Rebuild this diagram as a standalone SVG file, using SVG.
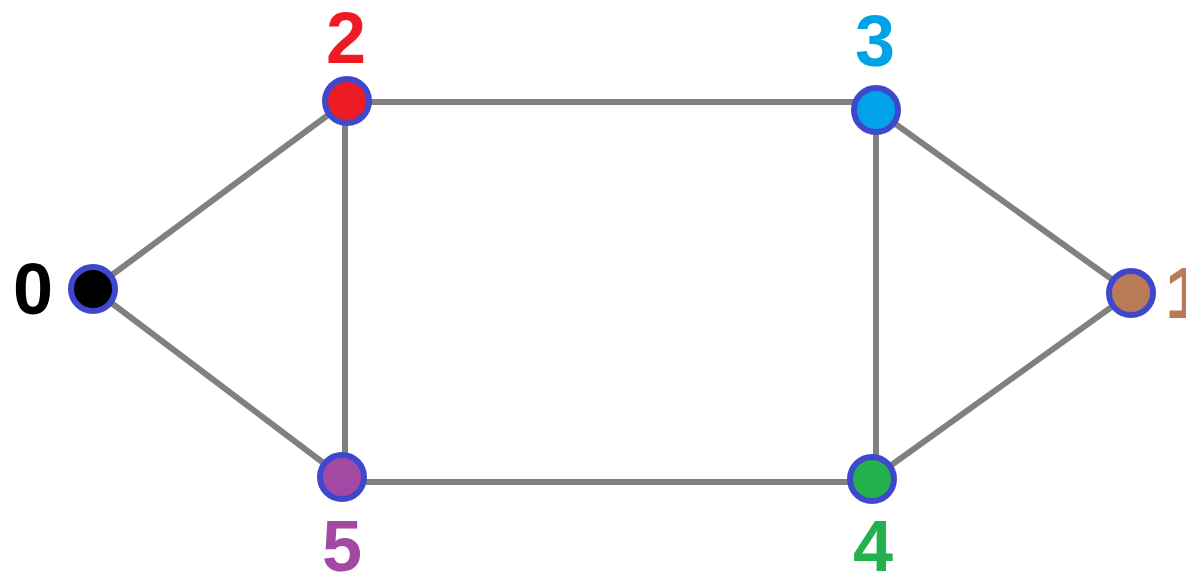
<svg xmlns="http://www.w3.org/2000/svg" width="1186" height="577" viewBox="0 0 1186 577">
<style>
.e{stroke:#808080;stroke-width:6;fill:none}
.n{stroke:#3f48cc;stroke-width:6}
.t{font-family:"Comic Sans MS","Liberation Sans",sans-serif;font-weight:bold;font-size:72px;text-anchor:middle}
</style>
<rect width="1186" height="577" fill="#fff"/>
<g id="edges">
<line class="e" x1="93" y1="289" x2="347" y2="101"/>
<line class="e" x1="93" y1="289" x2="342" y2="477"/>
<line class="e" x1="347" y1="102" x2="876" y2="102"/>
<line class="e" x1="345" y1="101" x2="345" y2="477"/>
<line class="e" x1="876" y1="110" x2="876" y2="479"/>
<line class="e" x1="342" y1="482" x2="872" y2="482"/>
<line class="e" x1="876" y1="110" x2="1131" y2="293"/>
<line class="e" x1="872" y1="479" x2="1131" y2="293"/>
</g>
<g id="node0"><circle class="n" cx="93" cy="289" r="22" fill="#000"/><text class="t" x="33" y="314" fill="#000">0</text></g>
<g id="node1"><circle class="n" cx="1131" cy="293" r="22" fill="#b97a57"/><text class="t" x="1185" y="318" fill="#b97a57">1</text></g>
<g id="node2"><circle class="n" cx="347" cy="101" r="22" fill="#ed1c24"/><text class="t" x="346" y="63" fill="#ed1c24">2</text></g>
<g id="node3"><circle class="n" cx="876" cy="110" r="22" fill="#00a2e8"/><text class="t" x="875" y="66" fill="#00a2e8">3</text></g>
<g id="node4"><circle class="n" cx="872" cy="479" r="22" fill="#22b14c"/><text class="t" x="873" y="571" fill="#22b14c">4</text></g>
<g id="node5"><circle class="n" cx="342" cy="477" r="22" fill="#a349a4"/><text class="t" x="342" y="571" fill="#a349a4">5</text></g>
</svg>
